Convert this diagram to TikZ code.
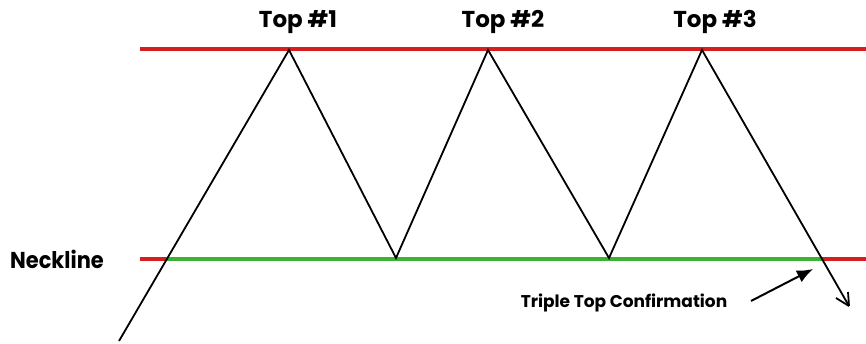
\documentclass[tikz,border=0pt]{standalone}
\usepackage{fontspec}
\setmainfont{Poppins}
\usetikzlibrary{arrows.meta}
\definecolor{lred}{RGB}{214,30,30}
\definecolor{lgreen}{RGB}{60,178,50}
\begin{document}
\begin{tikzpicture}[x=1pt,y=-1pt,
  redline/.style={lred,line width=4pt},
  greenline/.style={lgreen,line width=4pt},
  price/.style={black,line width=1.8pt,line join=miter},
  toplabel/.style={font=\bfseries\fontsize{23}{26}\selectfont,inner sep=0pt},
  necklabel/.style={font=\bfseries\fontsize{23}{26}\selectfont,inner sep=0pt},
  smalllabel/.style={font=\bfseries\fontsize{17}{19}\selectfont,inner sep=0pt}]
\useasboundingbox (0,0) rectangle (866,344);
% coordinates
\coordinate (r1a) at (140,49);
\coordinate (r1b) at (866,49);
\coordinate (n0) at (140,259);
\coordinate (n1) at (166,259);
\coordinate (n2) at (822,259);
\coordinate (n3) at (866,259);
\coordinate (s) at (119,341);
\coordinate (p1) at (289,50);
\coordinate (v1) at (396,258);
\coordinate (p2) at (488,50);
\coordinate (v2) at (609,258);
\coordinate (p3) at (702,50);
\coordinate (e) at (849,306);
% lines
\draw[redline] (r1a) -- (r1b);
\draw[redline] (n0) -- (n1);
\draw[redline] (n2) -- (n3);
\draw[greenline] (n1) -- (n2);
\draw[price] (s) -- (p1) -- (v1) -- (p2) -- (v2) -- (p3) -- (e);
\draw[price] (e) -- ++(-1,-14);
\draw[price] (e) -- ++(-13,-8);
% labels
\node[toplabel] (t1) at (298,22) {Top \#1};
\node[toplabel] (t2) at (503,22) {Top \#2};
\node[toplabel] (t3) at (715,22) {Top \#3};
\node[necklabel,anchor=west] (neck) at (10,259) {\scalebox{0.91}[1]{Neckline}};
\node[smalllabel] (conf) at (624,303) {Triple Top Confirmation};
\coordinate (ctail) at (751,301);
\coordinate (chead) at (813,269);
\draw[line width=2pt,-{Latex[length=16pt,width=13pt]}] (ctail) -- (chead);
\end{tikzpicture}
\end{document}
